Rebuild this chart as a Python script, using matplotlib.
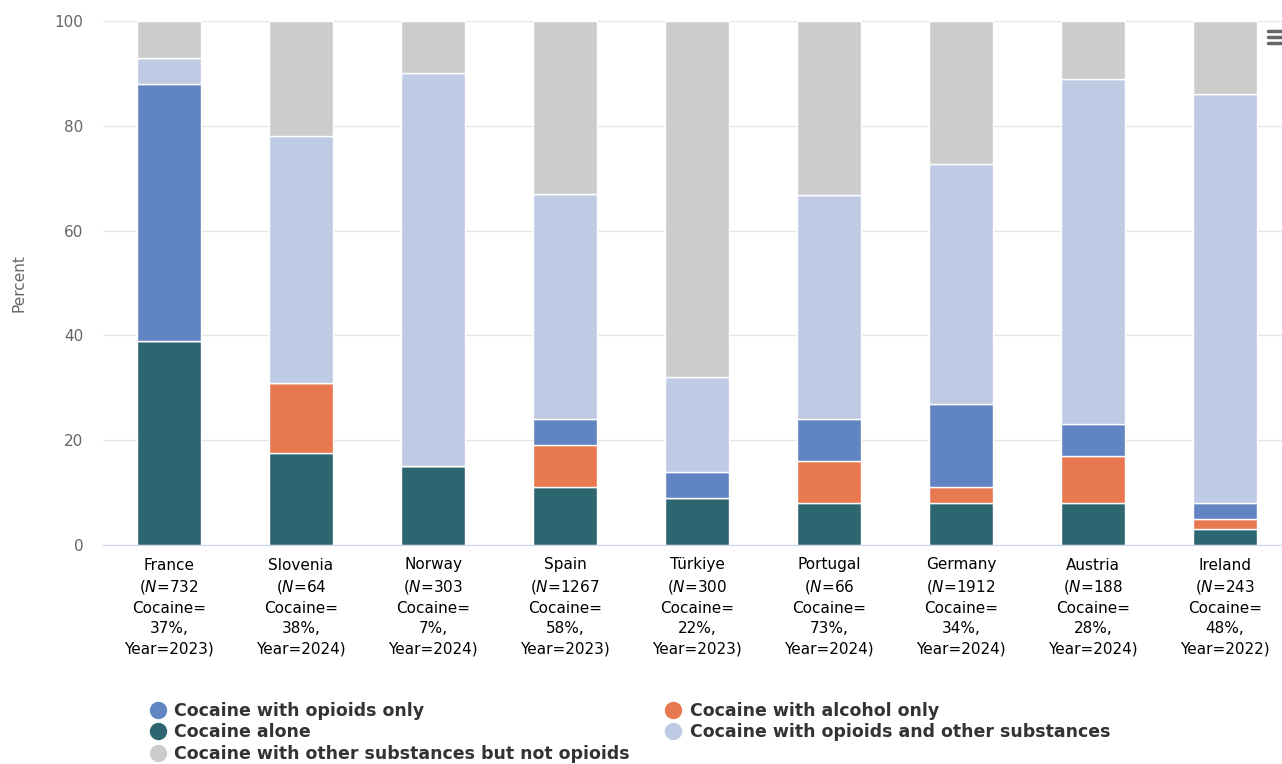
import matplotlib
matplotlib.use("Agg")
import matplotlib.pyplot as plt
from matplotlib.lines import Line2D
import numpy as np

plt.rcParams['font.family'] = ['DejaVu Sans']

countries = ["France", "Slovenia", "Norway", "Spain", "Türkiye", "Portugal", "Germany", "Austria", "Ireland"]
n_values = [732, 64, 303, 1267, 300, 66, 1912, 188, 243]
cocaine_pct = [37, 38, 7, 58, 22, 73, 34, 28, 48]
years = [2023, 2024, 2024, 2023, 2023, 2024, 2024, 2024, 2022]

cocaine_alone = [39, 17.5, 15, 11, 9, 8, 8, 8, 3]
alcohol_only = [0, 13.5, 0, 8, 0, 8, 3, 9, 2]
opioids_only = [49, 0, 0, 5, 5, 8, 16, 6, 3]
opioids_other = [5, 47, 75, 43, 18, 42.7, 45.7, 66, 78]
other_not_opioids = [7, 22, 10, 33, 68, 33.3, 27.3, 11, 14]

series = [
    ("Cocaine alone", cocaine_alone, "#2d6670"),
    ("Cocaine with alcohol only", alcohol_only, "#e8784f"),
    ("Cocaine with opioids only", opioids_only, "#6184c3"),
    ("Cocaine with opioids and other substances", opioids_other, "#bfcbe5"),
    ("Cocaine with other substances but not opioids", other_not_opioids, "#cccccc"),
]

W, H = 1282, 764
fig = plt.figure(figsize=(W / 100, H / 100), dpi=100)
left_px, right_px, top_px, bot_px = 103, 1282, 21, 545
ax = fig.add_axes([left_px / W, 1 - bot_px / H, (right_px - left_px) / W, (bot_px - top_px) / H])

x = np.arange(len(countries))
bottom = np.zeros(len(countries))
colors = {}
for name, vals, col in series:
    vals = np.array(vals, dtype=float)
    ax.bar(x, vals, bottom=bottom, width=0.48, color=col, edgecolor="white", linewidth=1, zorder=3)
    bottom += vals
    colors[name] = col

ax.set_xlim(-0.5, -0.5 + (right_px - left_px) / 132)
ax.set_ylim(0, 100)
ax.set_yticks([0, 20, 40, 60, 80, 100])
ax.yaxis.grid(True, color="#e6e6e6", linewidth=1, zorder=0)
for s in ["top", "right", "left"]:
    ax.spines[s].set_visible(False)
ax.spines["bottom"].set_color("#ccd6eb")
ax.spines["bottom"].set_zorder(4)
ax.tick_params(axis="y", length=0, labelsize=11, labelcolor="#666666", pad=14)
ax.tick_params(axis="x", length=0, labelsize=11, labelcolor="black", pad=9)

labels = [f"{c}\n($\\mathit{{N}}$={n}\nCocaine=\n{p}%,\nYear={y})"
          for c, n, p, y in zip(countries, n_values, cocaine_pct, years)]
ax.set_xticks(x)
ax.set_xticklabels(labels, linespacing=1.42)
ax.set_ylabel("Percent", color="#666666", fontsize=11, labelpad=20)

legend_order = [
    "Cocaine with opioids only",
    "Cocaine alone",
    "Cocaine with other substances but not opioids",
    "Cocaine with alcohol only",
    "Cocaine with opioids and other substances",
]
handles = [Line2D([0], [0], marker="o", linestyle="", markersize=11.5,
                  markerfacecolor=colors[n], markeredgecolor=colors[n]) for n in legend_order]
fig.legend(handles, legend_order, loc="upper left", bbox_to_anchor=(149 / W, 1 - 702 / H),
           ncol=2, frameon=False, handletextpad=0.45, columnspacing=2.0,
           labelspacing=0.2, handlelength=1.0,
           prop={"weight": "bold", "size": 12.5}, labelcolor="#333333", borderaxespad=0, borderpad=0)

# menu icon
for yy in [31, 37, 43]:
    fig.add_artist(Line2D([1268 / W, 1282 / W], [1 - yy / H, 1 - yy / H], color="#666666",
                          linewidth=2.5, solid_capstyle="round"))

fig.savefig("out.png", dpi=100)
